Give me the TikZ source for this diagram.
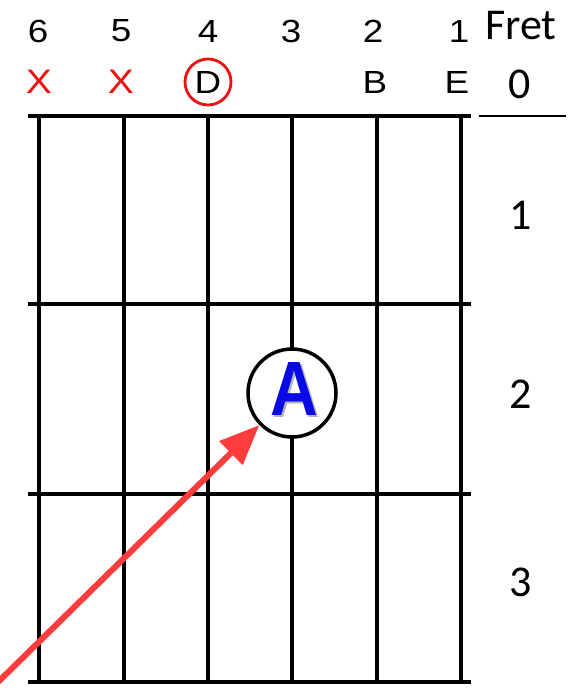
\documentclass[tikz,border=0pt]{standalone}
\usepackage{fontspec}
\setmainfont{Liberation Sans}
\newfontfamily\calib{Carlito}
\usetikzlibrary{arrows.meta}
\definecolor{xred}{HTML}{F01010}
\definecolor{arrred}{HTML}{FF3C3C}
\definecolor{noteblue}{HTML}{0A0AE6}
\newcommand\widetxt[1]{\scalebox{1.15}[1]{#1}}
\begin{document}
\begin{tikzpicture}[x=1pt,y=-1pt,
  fretline/.style={line width=4.5pt},
  stringline/.style={line width=4pt},
  topnum/.style={font=\fontsize{32}{32}\selectfont, inner sep=0pt},
  openlbl/.style={font=\fontsize{32}{32}\selectfont, inner sep=0pt},
  mutelbl/.style={font=\fontsize{34}{34}\selectfont, inner sep=0pt, text=xred},
  fretlbl/.style={font=\calib\fontsize{44}{44}\selectfont, inner sep=0pt}]
\useasboundingbox (0,0) rectangle (573,691);
\clip (0,0) rectangle (573,691);
% strings
\foreach \x in {39,123.5,208,292,377,461}
  \draw[stringline] (\x,116) -- (\x,682);
% frets
\foreach \y in {116,304,494,682}
  \draw[fretline] (28,\y) -- (471,\y);
\draw[line width=2.5pt] (479,116) -- (566,116);
% string numbers
\node[topnum] (n6) at (38,31) {\widetxt{6}};
\node[topnum] (n5) at (121,31) {\widetxt{5}};
\node[topnum] (n4) at (208,31) {\widetxt{4}};
\node[topnum] (n3) at (291,31) {\widetxt{3}};
\node[topnum] (n2) at (373,31) {\widetxt{2}};
\node[topnum] (n1) at (459,31) {\widetxt{1}};
% open / muted
\node[mutelbl] (x6) at (39,82) {\widetxt{X}};
\node[mutelbl] (x5) at (121,82) {\widetxt{X}};
\node[draw=xred, line width=2.8pt, circle, minimum size=46pt, inner sep=0pt] (d4) at (208,82) {};
\node[openlbl] (d4t) at (208,82) {\widetxt{D}};
\node[openlbl] (b2) at (375,82) {\widetxt{B}};
\node[openlbl] (e1) at (457,82) {\widetxt{E}};
% fret labels
\node[fretlbl] (fret) at (521,26) {Fret};
\node[fretlbl] (f0) at (520,84) {0};
\node[fretlbl] (f1) at (521,215) {1};
\node[fretlbl] (f2) at (521,394) {2};
\node[fretlbl] (f3) at (521,582) {3};
% fretted note
\node[circle, draw, fill=white, line width=3.5pt, minimum size=88pt, inner sep=0pt] (anote) at (292,393) {};
\node[font=\bfseries\fontsize{77}{77}\selectfont, text=noteblue, inner sep=0pt] (atext) at (294,390)
  {\scalebox{0.86}[1]{\makebox[0pt][l]{\kern2.5pt\raisebox{-2.5pt}{\color{black!30}A}}A}};
% arrow
\coordinate (astart) at (-8,688);
\draw[arrred, line width=6pt, -{Triangle[length=40pt,width=32pt]}] (astart) -- (anote);
\end{tikzpicture}
\end{document}
